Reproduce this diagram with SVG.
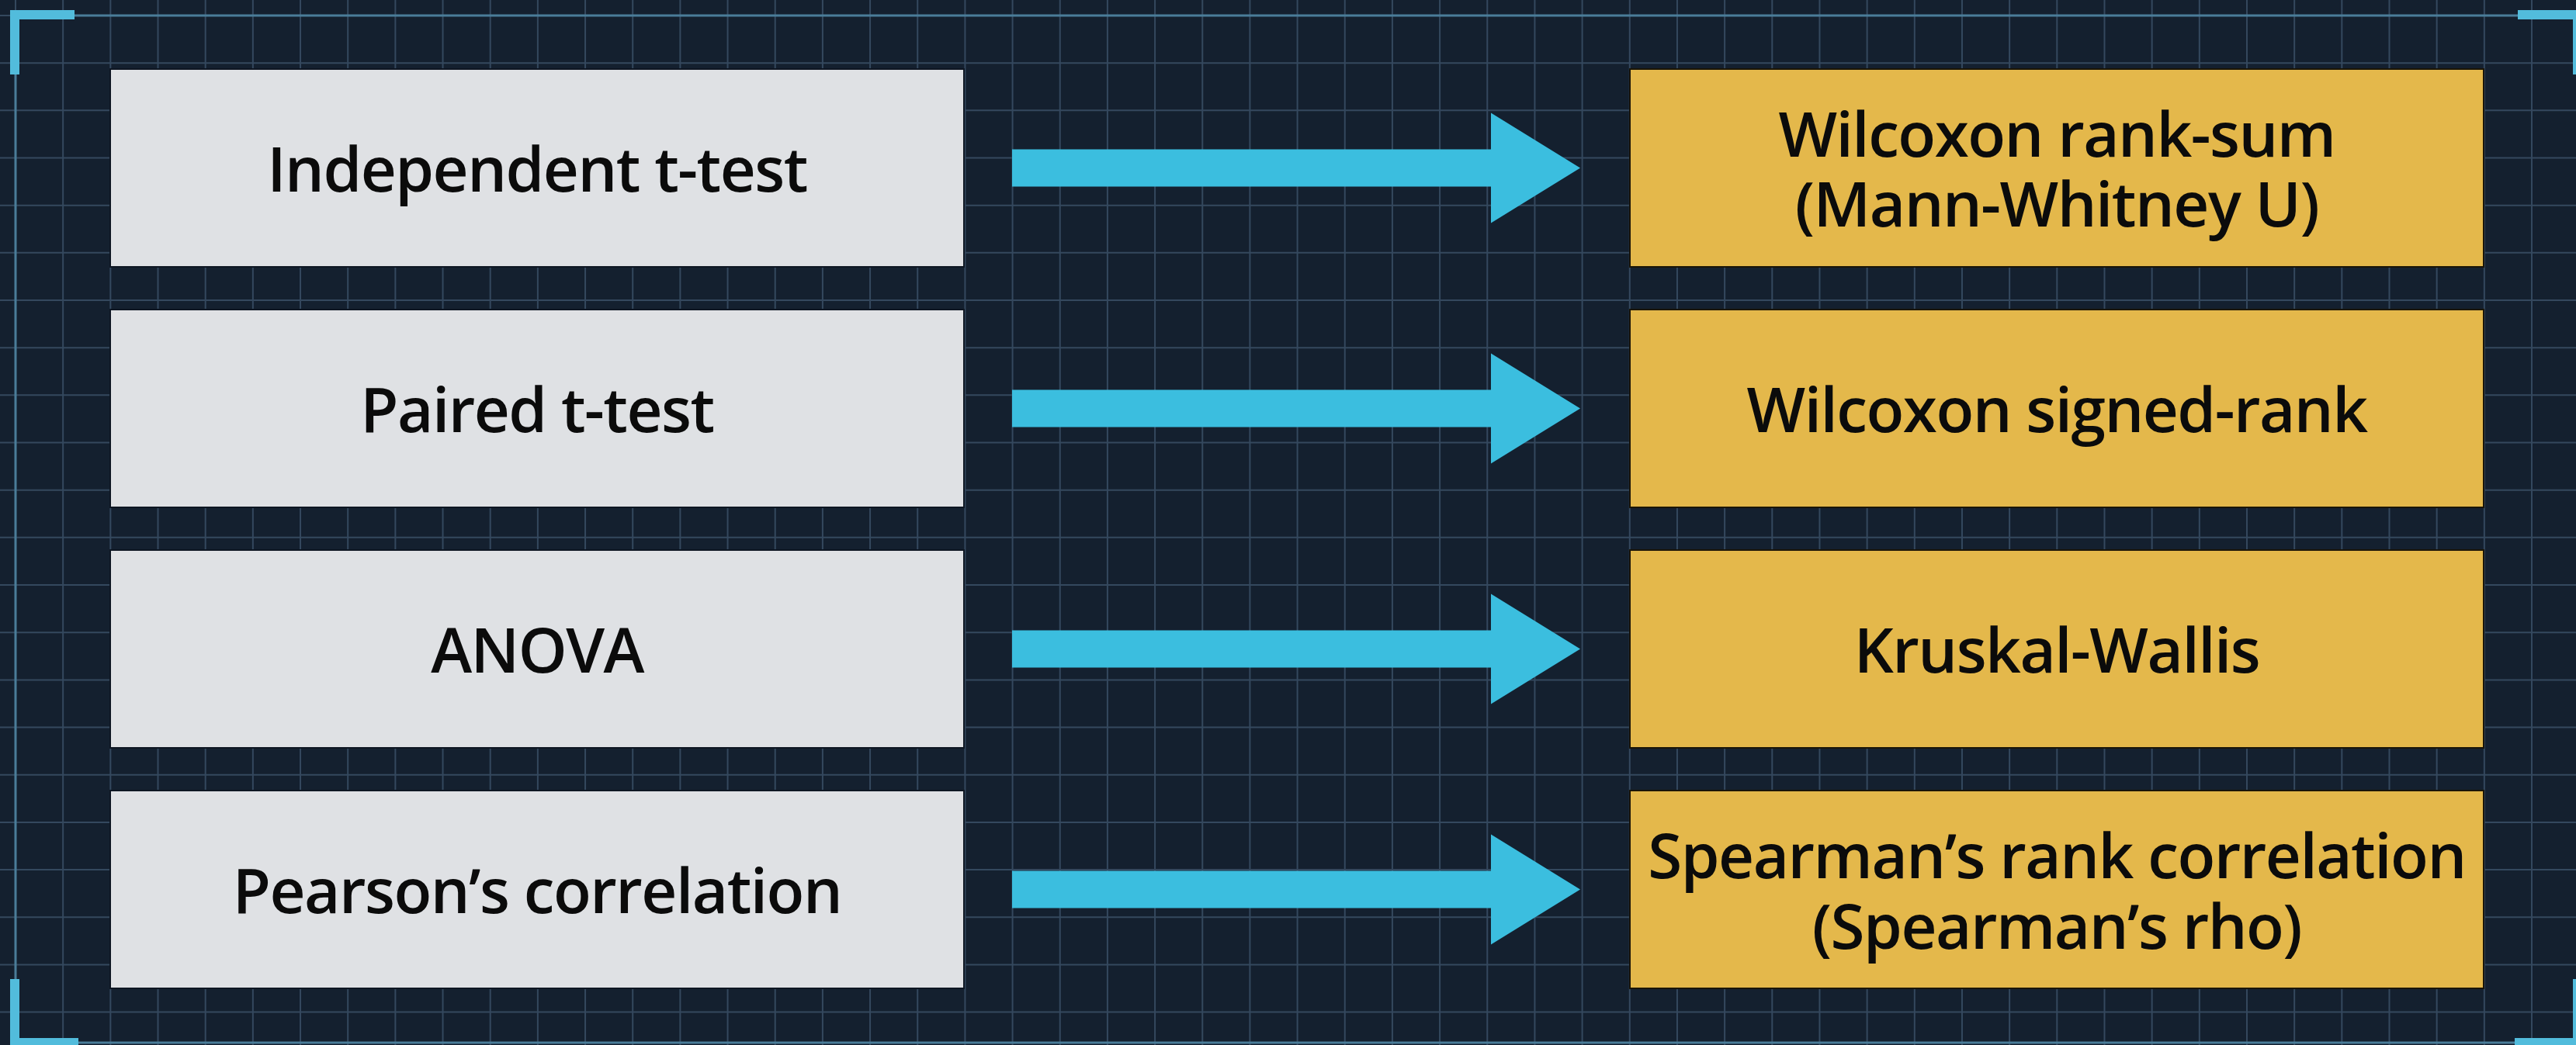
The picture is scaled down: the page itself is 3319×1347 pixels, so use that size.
<svg xmlns="http://www.w3.org/2000/svg" width="3319" height="1347" viewBox="0 0 3319 1347">
<style>
.bg{fill:#14202f}
.grid{stroke:#34485e;stroke-width:2;fill:none}
.frame{stroke:#4a7d99;stroke-width:3;fill:none}
.bracket{stroke:#52bcdc;stroke-width:12;fill:none;stroke-linecap:square}
.src{fill:#dfe1e4;stroke:#0e1622;stroke-width:2}
.dst{fill:#e4b84b;stroke:#1a1508;stroke-width:2}
.arrow{fill:#3bbedf}
.lbl{font-family:"Open Sans","Noto Sans","Liberation Sans",sans-serif;font-size:80px;font-weight:600;letter-spacing:-1.5px;fill:#0b0b0b;text-anchor:middle}
</style>
<rect class="bg" x="0" y="0" width="3319" height="1347"/>
<path class="grid" d="M20 0V1347M81.17 0V1347M142.34 0V1347M203.51 0V1347M264.68 0V1347M325.85 0V1347M387.02 0V1347M448.19 0V1347M509.36 0V1347M570.53 0V1347M631.7 0V1347M692.87 0V1347M754.04 0V1347M815.21 0V1347M876.38 0V1347M937.55 0V1347M998.72 0V1347M1059.89 0V1347M1121.06 0V1347M1182.23 0V1347M1243.4 0V1347M1304.57 0V1347M1365.74 0V1347M1426.91 0V1347M1488.08 0V1347M1549.25 0V1347M1610.42 0V1347M1671.59 0V1347M1732.76 0V1347M1793.93 0V1347M1855.1 0V1347M1916.27 0V1347M1977.44 0V1347M2038.61 0V1347M2099.78 0V1347M2160.95 0V1347M2222.12 0V1347M2283.29 0V1347M2344.46 0V1347M2405.63 0V1347M2466.8 0V1347M2527.97 0V1347M2589.14 0V1347M2650.31 0V1347M2711.48 0V1347M2772.65 0V1347M2833.82 0V1347M2894.99 0V1347M2956.16 0V1347M3017.33 0V1347M3078.5 0V1347M3139.67 0V1347M3200.84 0V1347M3262.01 0V1347
M0 20H3319M0 81.17H3319M0 142.34H3319M0 203.51H3319M0 264.68H3319M0 325.85H3319M0 387.02H3319M0 448.19H3319M0 509.36H3319M0 570.53H3319M0 631.7H3319M0 692.87H3319M0 754.04H3319M0 815.21H3319M0 876.38H3319M0 937.55H3319M0 998.72H3319M0 1059.89H3319M0 1121.06H3319M0 1182.23H3319M0 1243.4H3319M0 1304.57H3319"/>
<rect class="frame" x="20" y="20" width="3301" height="1324"/>
<g id="corners">
<path class="bracket" d="M19 90V19H90"/>
<path class="bracket" d="M3250 19H3321V90"/>
<path class="bracket" d="M19 1268V1344H95"/>
<path class="bracket" d="M3246 1344H3321V1268"/>
</g>
<g id="connectors">
<polygon class="arrow" points="1304,192.5 1921,192.5 1921,145.5 2036,216.5 1921,287.5 1921,240.5 1304,240.5"/>
<polygon class="arrow" points="1304,502.5 1921,502.5 1921,455.5 2036,526.5 1921,597.5 1921,550.5 1304,550.5"/>
<polygon class="arrow" points="1304,812.5 1921,812.5 1921,765.5 2036,836.5 1921,907.5 1921,860.5 1304,860.5"/>
<polygon class="arrow" points="1304,1122.5 1921,1122.5 1921,1075.5 2036,1146.5 1921,1217.5 1921,1170.5 1304,1170.5"/>
</g>
<g id="independent-t-test">
<rect class="src" x="142" y="89" width="1100" height="255"/>
<text class="lbl" x="692" y="247">Independent t-test</text>
</g>
<g id="paired-t-test">
<rect class="src" x="142" y="399" width="1100" height="255"/>
<text class="lbl" x="692" y="557">Paired t-test</text>
</g>
<g id="anova">
<rect class="src" x="142" y="709" width="1100" height="255"/>
<text class="lbl" x="692" y="867">ANOVA</text>
</g>
<g id="pearson">
<rect class="src" x="142" y="1019" width="1100" height="255"/>
<text class="lbl" x="692" y="1177">Pearson’s correlation</text>
</g>
<g id="wilcoxon-rank-sum">
<rect class="dst" x="2100" y="89" width="1100" height="255"/>
<text class="lbl" x="2650" y="201.5">Wilcoxon rank-sum</text>
<text class="lbl" x="2650" y="291.5">(Mann-Whitney U)</text>
</g>
<g id="wilcoxon-signed-rank">
<rect class="dst" x="2100" y="399" width="1100" height="255"/>
<text class="lbl" x="2650" y="557">Wilcoxon signed-rank</text>
</g>
<g id="kruskal-wallis">
<rect class="dst" x="2100" y="709" width="1100" height="255"/>
<text class="lbl" x="2650" y="867">Kruskal-Wallis</text>
</g>
<g id="spearman">
<rect class="dst" x="2100" y="1019" width="1100" height="255"/>
<text class="lbl" x="2650" y="1131.5">Spearman’s rank correlation</text>
<text class="lbl" x="2650" y="1222.5">(Spearman’s rho)</text>
</g>
</svg>
